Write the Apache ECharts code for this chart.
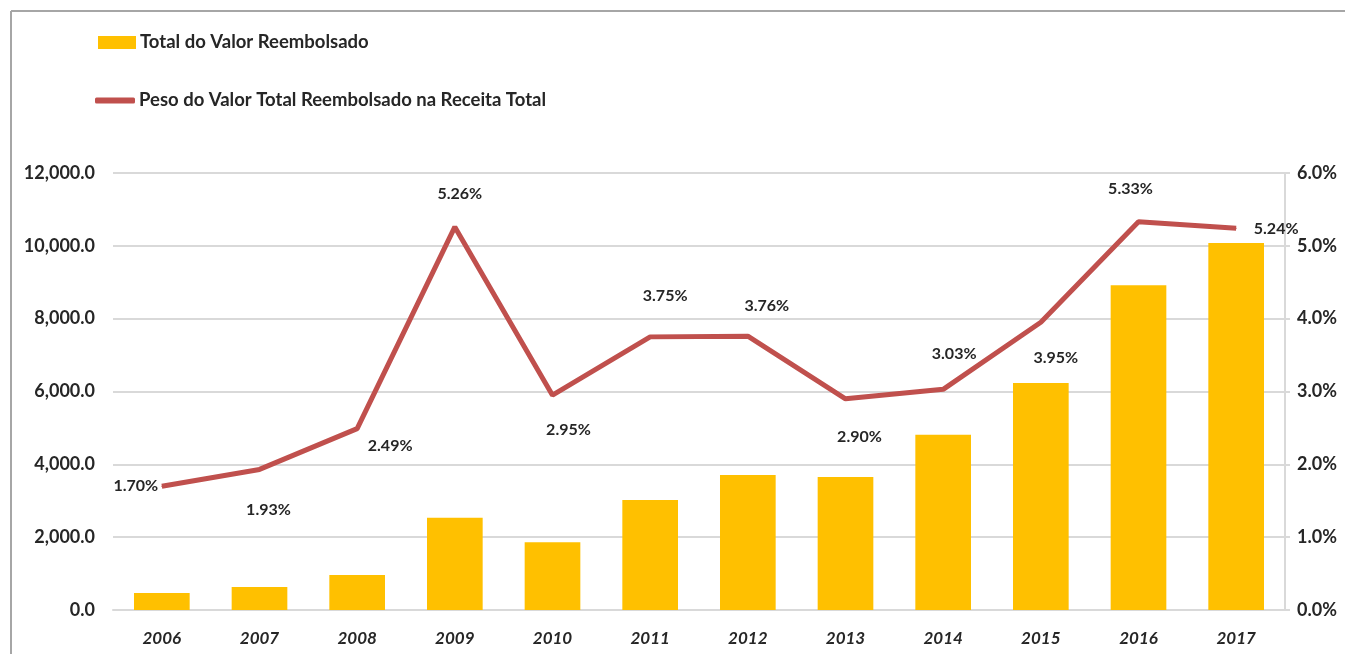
<!DOCTYPE html>
<html>
<head>
<meta charset="utf-8">
<title>Valor Reembolsado</title>
<script src="https://cdn.jsdelivr.net/npm/echarts@6/dist/echarts.min.js"></script>
<style>
  html, body { margin: 0; padding: 0; background: #ffffff; }
  #chart { width: 1345px; height: 654px; }
</style>
</head>
<body>
<div id="chart"></div>
<script>
// Years on the category axis
const years = ['2006', '2007', '2008', '2009', '2010', '2011', '2012', '2013', '2014', '2015', '2016', '2017'];

// Total reimbursed amount per year (left axis)
const totalReembolsado = [470, 630, 960, 2530, 1860, 3020, 3710, 3650, 4810, 6230, 8920, 10080];

// Share of reimbursed amount in total revenue, in percent (right axis)
const pesoReceita = [1.70, 1.93, 2.49, 5.26, 2.95, 3.75, 3.76, 2.90, 3.03, 3.95, 5.33, 5.24];

// Series names shown in the legend
const serieBarras = 'Total do Valor Reembolsado';
const serieLinha = 'Peso do Valor Total Reembolsado na Receita Total';

// Where each percentage label sits relative to its point (x, y shift in px)
const labelShift = [
  [-26, 0], [9, 40], [33, 17], [5, -33], [16, 35], [15, -41],
  [19, -30], [14, 38], [11, -35], [15, 36], [-8, -33], [40, 0]
];

const FONT = 'Lato, "Open Sans", sans-serif';
const TEXT = '#262626';

const chart = echarts.init(document.getElementById('chart'), null, { renderer: 'canvas' });

const lineData = pesoReceita.map((v, i) => ({
  value: v,
  label: { offset: labelShift[i] }
}));

chart.setOption({
  animation: false,
  backgroundColor: '#ffffff',
  graphic: [
    { type: 'line', shape: { x1: 11, y1: 11, x2: 1345, y2: 11 }, style: { stroke: '#a6a6a6', lineWidth: 2 } },
    { type: 'line', shape: { x1: 11, y1: 11, x2: 11, y2: 654 }, style: { stroke: '#a6a6a6', lineWidth: 2 } }
  ],
  legend: [
    {
      left: 98, top: 33, padding: 0,
      itemWidth: 38, itemHeight: 13, itemGap: 0,
      icon: 'rect',
      data: [serieBarras],
      textStyle: { fontFamily: FONT, fontSize: 18.5, fontWeight: 'bold', color: TEXT, padding: [0, 0, 0, -1] },
      selectedMode: false
    },
    {
      left: 95, top: 91, padding: 0,
      itemWidth: 40, itemHeight: 6, itemGap: 0,
      icon: 'roundRect',
      data: [serieLinha],
      textStyle: { fontFamily: FONT, fontSize: 18.5, fontWeight: 'bold', color: TEXT, padding: [0, 0, 0, -1] },
      selectedMode: false
    }
  ],
  grid: { left: 113, right: 60, top: 173, bottom: 44, containLabel: false },
  xAxis: {
    type: 'category',
    data: years,
    axisLine: { show: true, lineStyle: { color: '#d9d9d9', width: 2 } },
    axisTick: { show: false },
    axisLabel: {
      margin: 20,
      fontFamily: FONT, fontSize: 17, fontStyle: 'italic', fontWeight: 'bold', color: TEXT
    }
  },
  yAxis: [
    {
      type: 'value',
      min: 0, max: 12000, interval: 2000,
      axisLine: { show: false },
      axisTick: { show: false },
      splitLine: { lineStyle: { color: '#d9d9d9', width: 2 } },
      axisLabel: {
        margin: 18,
        fontFamily: FONT, fontSize: 18, fontWeight: 'bold', color: TEXT,
        formatter: v => v.toLocaleString('en-US', { minimumFractionDigits: 1, maximumFractionDigits: 1 })
      }
    },
    {
      type: 'value',
      min: 0, max: 6, interval: 1,
      position: 'right',
      axisLine: { show: true, lineStyle: { color: '#d9d9d9', width: 2 } },
      axisTick: { show: true, length: 5, lineStyle: { color: '#d9d9d9', width: 2 } },
      splitLine: { show: false },
      axisLabel: {
        margin: 12,
        fontFamily: FONT, fontSize: 18, fontWeight: 'bold', color: TEXT,
        formatter: v => v.toFixed(1) + '%'
      }
    }
  ],
  series: [
    {
      name: serieBarras,
      type: 'bar',
      yAxisIndex: 0,
      data: totalReembolsado,
      barWidth: '57%',
      itemStyle: { color: '#ffc000' }
    },
    {
      name: serieLinha,
      type: 'line',
      yAxisIndex: 1,
      data: lineData,
      symbol: 'circle',
      symbolSize: 1,
      showSymbol: true,
      itemStyle: { color: '#c0504d' },
      lineStyle: { color: '#c0504d', width: 5 },
      label: {
        show: true,
        position: 'inside',
        fontFamily: FONT, fontSize: 16, fontWeight: 'bold', color: TEXT,
        formatter: p => p.value.toFixed(2) + '%'
      }
    }
  ]
});
</script>
</body>
</html>
